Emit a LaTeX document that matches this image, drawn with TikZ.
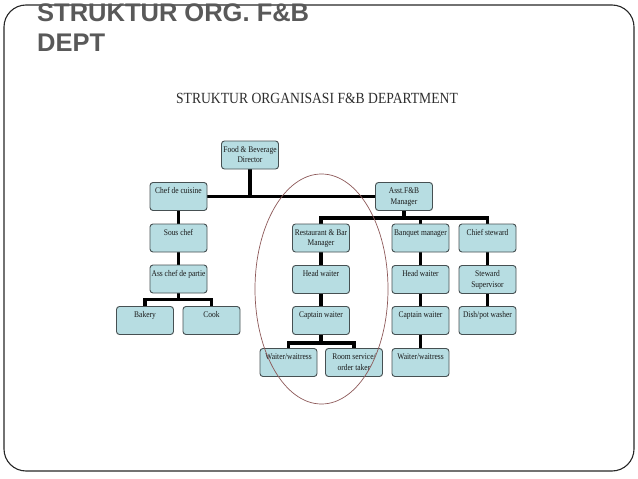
\documentclass[tikz,border=0pt]{standalone}
\usepackage{fontspec}
\setmainfont{Liberation Serif}
\newfontfamily\titlefont{Liberation Sans}
\newfontfamily\boxfont[FakeStretch=0.86]{Liberation Serif}
\newfontfamily\subfont[FakeStretch=0.88]{Liberation Serif}
\usetikzlibrary{backgrounds}
\definecolor{boxfill}{RGB}{183,221,226}
\definecolor{boxline}{RGB}{70,80,82}
\definecolor{titlegray}{RGB}{89,89,89}
\definecolor{subgray}{RGB}{45,45,45}
\definecolor{ellcol}{RGB}{140,88,88}
\newcommand\bt[1]{\parbox[t][20pt][t]{57pt}{\centering\rule{0pt}{7.2pt}#1}}
\tikzset{
  bx/.style={draw=boxline, line width=0.9pt, fill=boxfill, rounded corners=3pt,
    minimum width=57pt, minimum height=28pt, inner xsep=0pt, inner ysep=4pt,
    font=\boxfont\fontsize{8.7}{10.5}\selectfont, text=black!90},
  conn/.style={draw=black, line width=3.8pt},
  ell/.style={draw=ellcol, line width=0.7pt},
  frame/.style={draw=black!85, line width=1.1pt, rounded corners=22pt}
}
\begin{document}
\begin{tikzpicture}[x=1pt,y=-1pt]
\useasboundingbox (0,0) rectangle (638,479);
\draw[frame] (4,5) rectangle (634,471);
\node[anchor=base west, inner sep=0pt, text=titlegray,
  font=\titlefont\bfseries\fontsize{25.5}{31}\selectfont] (title) at (37,21)
  {\parbox[t]{320pt}{\raggedright STRUKTUR ORG. F\&B\\DEPT}};
\node[anchor=base, inner sep=0pt, text=subgray, font=\subfont\fontsize{15.5}{18}\selectfont]
  (sub) at (317,103) {STRUKTUR ORGANISASI F\&B DEPARTMENT};

\node[bx] (fbd) at (250,155) {\bt{Food \& Beverage\\Director}};
\node[bx] (cdc) at (178.5,196.5) {\bt{Chef de cuisine}};
\node[bx] (asst) at (404,196.5) {\bt{Asst.F\&B\\Manager}};
\node[bx] (sous) at (178.5,238) {\bt{Sous chef}};
\node[bx] (acp) at (178.5,279) {\bt{Ass chef de partie}};
\node[bx] (bak) at (145,320.5) {\bt{Bakery}};
\node[bx] (cook) at (211.5,320.5) {\bt{Cook}};
\node[bx] (rbm) at (321,238) {\bt{Restaurant \& Bar\\Manager}};
\node[bx] (hw1) at (321,279.5) {\bt{Head waiter}};
\node[bx] (cw1) at (321,320.5) {\bt{Captain waiter}};
\node[bx] (ww1) at (288.5,362.5) {\bt{Waiter/waitress}};
\node[bx] (rs) at (354,362.5) {\bt{Room service/\\order taker}};
\node[bx] (bqm) at (420.5,238) {\bt{Banquet manager}};
\node[bx] (hw2) at (420.5,279.5) {\bt{Head waiter}};
\node[bx] (cw2) at (420.5,320.5) {\bt{Captain waiter}};
\node[bx] (ww2) at (420.5,362.5) {\bt{Waiter/waitress}};
\node[bx] (cst) at (487.5,238) {\bt{Chief steward}};
\node[bx] (ss) at (487.5,279.5) {\bt{Steward\\Supervisor}};
\node[bx] (dpw) at (487.5,320.5) {\bt{Dish/pot washer}};

\begin{pgfonlayer}{background}
\draw[conn] (fbd.south) -- (fbd.south |- cdc.east);
\draw[conn] (cdc.east) -- (asst.west);
\draw[conn] (cdc.south) -- (sous.north);
\draw[conn] (sous.south) -- (acp.north);
\draw[conn] (acp.south) -- ++(0,6) coordinate (j2);
\draw[conn] (bak.north) |- (j2) -| (cook.north);
\draw[conn] (asst.south) -- ++(0,7) coordinate (j1);
\draw[conn] (rbm.north) |- (j1) -| (cst.north);
\draw[conn] (bqm.north) -- (bqm.north |- j1);
\draw[conn] (rbm.south) -- (hw1.north);
\draw[conn] (hw1.south) -- (cw1.north);
\draw[conn] (cw1.south) -- ++(0,8) coordinate (j3);
\draw[conn] (ww1.north) |- (j3) -| (rs.north);
\draw[conn] (bqm.south) -- (hw2.north);
\draw[conn] (hw2.south) -- (cw2.north);
\draw[conn] (cw2.south) -- (ww2.north);
\draw[conn] (cst.south) -- (ss.north);
\draw[conn] (ss.south) -- (dpw.north);
\end{pgfonlayer}

\draw[ell] (321.5,289) ellipse [x radius=66.5pt, y radius=115pt];
\end{tikzpicture}
\end{document}
